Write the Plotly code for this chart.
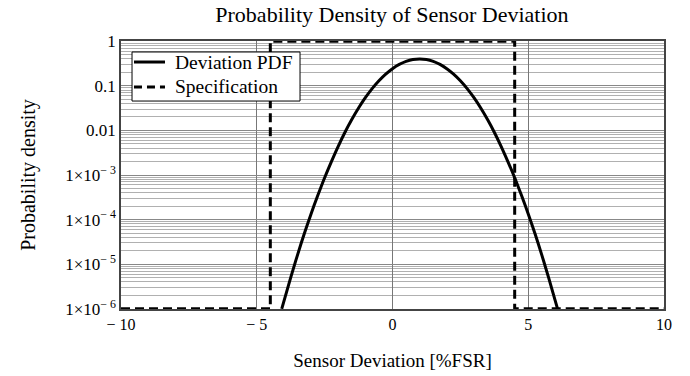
import plotly.graph_objects as go

# Deviation PDF (x in %FSR, y probability density)
pdf_x = [-4.08, -3.75, -3.5, -3.25, -3.0, -2.75, -2.5, -2.25, -2.0, -1.75, -1.5, -1.25, -1.0,
         -0.75, -0.5, -0.25, 0.0, 0.25, 0.5, 0.75, 1.0, 1.25, 1.5, 1.75, 2.0, 2.25, 2.5,
         2.75, 3.0, 3.25, 3.5, 3.75, 4.0, 4.25, 4.5, 4.75, 5.0, 5.25, 5.5, 5.75, 6.08]
pdf_y = [1.0e-6, 5.0e-6, 1.6e-5, 4.8e-5, 1.34e-4, 3.5e-4, 8.7e-4, 2.0e-3, 4.4e-3, 9.1e-3,
         0.0175, 0.0317, 0.054, 0.0863, 0.1295, 0.1826, 0.242, 0.301, 0.352, 0.387, 0.399,
         0.387, 0.352, 0.301, 0.242, 0.1826, 0.1295, 0.0863, 0.054, 0.0317, 0.0175, 9.1e-3,
         4.4e-3, 2.0e-3, 8.7e-4, 3.5e-4, 1.34e-4, 4.8e-5, 1.6e-5, 5.0e-6, 1.0e-6]

# Specification limits
spec_x = [-10, -4.5, -4.5, 4.5, 4.5, 10]
spec_y = [1e-6, 1e-6, 1, 1, 1e-6, 1e-6]

series_names = ["Deviation PDF", "Specification"]

x_tickvals = [-10, -5, 0, 5, 10]
x_ticktext = ["\u2212 10", "\u2212 5", "0", "5", "10"]
y_tickvals = [1, 0.1, 0.01, 1e-3, 1e-4, 1e-5, 1e-6]
y_ticktext = ["1", "0.1", "0.01", "1\u00d710<sup>\u2212 3</sup>", "1\u00d710<sup>\u2212 4</sup>",
              "1\u00d710<sup>\u2212 5</sup>", "1\u00d710<sup>\u2212 6</sup>"]

font_family = "Liberation Serif, Times New Roman, serif"
dash_style = "9px,5px"

fig = go.Figure()
fig.add_trace(go.Scatter(x=pdf_x, y=pdf_y, mode="lines", name=series_names[0],
                         line=dict(color="black", width=3, shape="spline", smoothing=1.0)))
fig.add_trace(go.Scatter(x=spec_x, y=spec_y, mode="lines", name=series_names[1],
                         line=dict(color="black", width=3, dash=dash_style)))

# Legend drawn as a boxed key (paper coordinates)
box = dict(x0=0.0203, x1=0.3297, y0=0.776, y1=0.959)
row_y = [0.9216, 0.8284]
sample_x = [0.0239, 0.081]
text_x = 0.0958
shapes = [dict(type="rect", xref="paper", yref="paper", layer="above",
               line=dict(color="black", width=1), fillcolor="white", **box)]
annotations = []
for i, name in enumerate(series_names):
    shapes.append(dict(type="line", xref="paper", yref="paper", layer="above",
                       x0=sample_x[0], x1=sample_x[1], y0=row_y[i], y1=row_y[i],
                       line=dict(color="black", width=3, dash="solid" if i == 0 else "8px,5px")))
    annotations.append(dict(text=name, xref="paper", yref="paper", x=text_x, y=row_y[i],
                            xanchor="left", yanchor="middle", showarrow=False,
                            font=dict(size=19.5, family=font_family, color="black")))

fig.update_layout(
    width=690, height=376,
    margin=dict(l=121, r=26, t=41, b=67),
    paper_bgcolor="white", plot_bgcolor="white",
    font=dict(family=font_family, color="black", size=16),
    title=dict(text="Probability Density of Sensor Deviation", x=0.568, xanchor="center",
               y=0.962, yanchor="middle", font=dict(size=22, family=font_family, color="black")),
    showlegend=False,
    shapes=shapes,
    annotations=annotations,
)

fig.update_xaxes(range=[-10, 10], tickvals=x_tickvals, ticktext=x_ticktext,
                 showgrid=True, gridcolor="#777777", gridwidth=1, zeroline=False,
                 showline=True, linecolor="#444444", linewidth=1.5, mirror=True,
                 ticks="", ticklen=0, automargin=False, tickfont=dict(size=16, family=font_family),
                 title=dict(text="Sensor Deviation [%FSR]", font=dict(size=19, family=font_family),
                            standoff=22))
fig.update_yaxes(type="log", range=[-6.004, 0.004], tickvals=y_tickvals, ticktext=y_ticktext,
                 showgrid=True, gridcolor="#888888", gridwidth=1, zeroline=False,
                 minor=dict(showgrid=True, dtick="D1", gridcolor="#b0b0b0", gridwidth=1),
                 showline=True, linecolor="#444444", linewidth=1.5, mirror=True,
                 ticks="", ticklen=0, automargin=False, tickfont=dict(size=17, family=font_family),
                 title=dict(text="Probability density", font=dict(size=20, family=font_family),
                            standoff=24))

fig.write_html("out.html", config={"displayModeBar": False},
               post_script="document.body.style.margin='0';")
